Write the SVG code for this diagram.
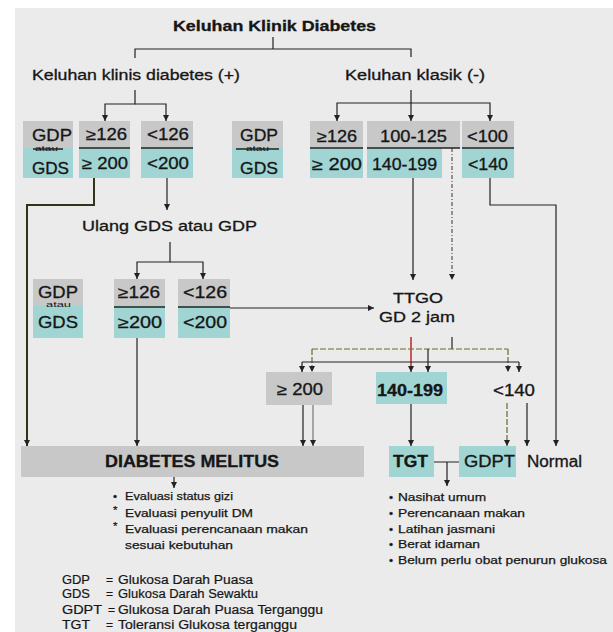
<svg xmlns="http://www.w3.org/2000/svg" width="613" height="632" viewBox="0 0 613 632">
<style>
text{font-family:"Liberation Sans",Arial,sans-serif;fill:#161616}
.b{font-weight:bold}
.lbl{font-size:14px;stroke:#161616;stroke-width:0.3}
.bx{font-size:16px;stroke:#161616;stroke-width:0.3}
.sm{font-size:11.5px;stroke:#161616;stroke-width:0.25}
.lg{font-size:12px;stroke:#161616;stroke-width:0.2}
.tiny{font-size:7px}
.g{fill:#c8c8c8}
.c{fill:#a0d5d4}
.sep{stroke:#222;stroke-width:1.5}
.ln{fill:none;stroke:#222;stroke-width:1.2}
.thick{fill:none;stroke:#33331c;stroke-width:2}
.dash{fill:none;stroke:#6e6a2c;stroke-width:1.2;stroke-dasharray:6 2}
.dot{fill:none;stroke:#555;stroke-width:1.2;stroke-dasharray:4 2 1 2}
.red{fill:none;stroke:#c01818;stroke-width:1.4}
.lt{fill:none;stroke:#777;stroke-width:1.2}
</style>
<defs>
<marker id="ah" viewBox="0 0 8 8" refX="8" refY="4" markerWidth="6" markerHeight="6" markerUnits="userSpaceOnUse" orient="auto">
<path d="M0,0 L8,4 L0,8 z" fill="#222"/>
</marker>
</defs>
<rect x="0" y="0" width="613" height="632" fill="#fff"/>
<rect x="15" y="8" width="598" height="624" fill="#ebebeb"/>

<g id="connectors">
<path class="ln" d="M135,58 V49 H411 V57 M273,37 V49"/>
<path class="ln" d="M135,90 V104 H105 V121" marker-end="url(#ah)"/>
<path class="ln" d="M135,104 H166 V121" marker-end="url(#ah)"/>
<path class="ln" d="M411,90 V103 H337 V121" marker-end="url(#ah)"/>
<path class="ln" d="M411,103 V121" marker-end="url(#ah)"/>
<path class="ln" d="M411,103 H490 V121" marker-end="url(#ah)"/>
<path class="thick" d="M94,178 V205 H27 V446" marker-end="url(#ah)"/>
<path class="ln" d="M167,178 V210" marker-end="url(#ah)"/>
<path class="ln" d="M170,242 V262 H137 V279" marker-end="url(#ah)"/>
<path class="ln" d="M170,262 H203 V279" marker-end="url(#ah)"/>
<path class="ln" d="M230,308 H374" marker-end="url(#ah)"/>
<path class="ln" d="M137,338 V446" marker-end="url(#ah)"/>
<path class="ln" d="M413,178 V280" marker-end="url(#ah)"/>
<path class="dot" d="M452,148 V280" marker-end="url(#ah)"/>
<path class="ln" d="M490,178 V205 H556 V446" marker-end="url(#ah)"/>
<path class="red" d="M411,337 V372" marker-end="url(#ah)"/>
<path class="ln" d="M452,337 V349"/>
<path class="dash" d="M312,349 H508"/>
<path class="dash" d="M312,349 V372" marker-end="url(#ah)"/>
<path class="ln" d="M428,349 V372" marker-end="url(#ah)"/>
<path class="dash" d="M508,349 V372" marker-end="url(#ah)"/>
<path class="ln" d="M302,362 H519"/>
<path class="ln" d="M302,362 V372" marker-end="url(#ah)"/>
<path class="ln" d="M519,362 V372" marker-end="url(#ah)"/>
<path class="ln" d="M303,405 V446" marker-end="url(#ah)"/>
<path class="lt" d="M313,405 V446" marker-end="url(#ah)"/>
<path class="ln" d="M411,404 V446" marker-end="url(#ah)"/>
<path class="dash" d="M507,403 V446" marker-end="url(#ah)"/>
<path class="ln" d="M527,403 V446" marker-end="url(#ah)"/>
<path class="ln" d="M434,462 H459 M447,462 V486" marker-end="url(#ah)"/>
<path class="ln" d="M174,477 V488" marker-end="url(#ah)"/>
</g>

<g id="title">
<text class="b lbl" x="173" y="31" textLength="203" lengthAdjust="spacingAndGlyphs">Keluhan Klinik Diabetes</text>
</g>
<g id="klinis-pos">
<text class="lbl" x="32" y="80" textLength="208" lengthAdjust="spacingAndGlyphs">Keluhan klinis diabetes (+)</text>
</g>
<g id="klasik-neg">
<text class="lbl" x="345" y="80" textLength="140" lengthAdjust="spacingAndGlyphs">Keluhan klasik (-)</text>
</g>

<g id="box1">
<rect class="g" x="23" y="121" width="50" height="27"/>
<rect class="c" x="23" y="148" width="50" height="30"/>
<line class="sep" x1="33" y1="149" x2="63" y2="149" stroke-width="1"/>
<text class="bx" x="32" y="141" textLength="40" lengthAdjust="spacingAndGlyphs">GDP</text>
<text class="tiny" x="35" y="151" textLength="23" lengthAdjust="spacingAndGlyphs">atau</text>
<text class="bx" x="32" y="174" textLength="37" lengthAdjust="spacingAndGlyphs">GDS</text>
</g>
<g id="box2">
<rect class="g" x="79" y="121" width="51" height="27"/>
<rect class="c" x="79" y="148" width="51" height="30"/>
<line class="sep" x1="79" y1="148" x2="130" y2="148"/>
<text class="bx" x="86" y="140" textLength="41" lengthAdjust="spacingAndGlyphs">≥126</text>
<text class="bx" x="82" y="169" textLength="46" lengthAdjust="spacingAndGlyphs">≥ 200</text>
</g>
<g id="box3">
<rect class="g" x="141" y="121" width="52" height="27"/>
<rect class="c" x="141" y="148" width="52" height="30"/>
<line class="sep" x1="141" y1="148" x2="193" y2="148"/>
<text class="bx" x="147" y="140" textLength="42" lengthAdjust="spacingAndGlyphs">&lt;126</text>
<text class="bx" x="147" y="169" textLength="42" lengthAdjust="spacingAndGlyphs">&lt;200</text>
</g>
<g id="box4">
<rect class="g" x="232" y="121" width="51" height="27"/>
<rect class="c" x="232" y="148" width="51" height="30"/>
<line class="sep" x1="236" y1="149" x2="279" y2="149" stroke-width="1"/>
<text class="bx" x="240" y="141" textLength="38" lengthAdjust="spacingAndGlyphs">GDP</text>
<text class="tiny" x="246" y="151" textLength="23" lengthAdjust="spacingAndGlyphs">atau</text>
<text class="bx" x="240" y="174" textLength="38" lengthAdjust="spacingAndGlyphs">GDS</text>
</g>
<g id="box5">
<rect class="g" x="310" y="121" width="53" height="27"/>
<rect class="c" x="310" y="148" width="53" height="30"/>
<line class="sep" x1="310" y1="148" x2="363" y2="148"/>
<text class="bx" x="317" y="142" textLength="40" lengthAdjust="spacingAndGlyphs">≥126</text>
<text class="bx" x="312" y="170" textLength="50" lengthAdjust="spacingAndGlyphs">≥ 200</text>
</g>
<g id="box6">
<rect class="g" x="367" y="121" width="93" height="27"/>
<rect class="c" x="367" y="148" width="75" height="30"/>
<line class="sep" x1="367" y1="148" x2="460" y2="148"/>
<text class="bx" x="380" y="142" textLength="67" lengthAdjust="spacingAndGlyphs">100-125</text>
<text class="bx" x="372" y="170" textLength="65" lengthAdjust="spacingAndGlyphs">140-199</text>
</g>
<g id="box7">
<rect class="g" x="462" y="121" width="52" height="27"/>
<rect class="c" x="462" y="148" width="52" height="30"/>
<line class="sep" x1="462" y1="148" x2="514" y2="148"/>
<text class="bx" x="467" y="142" textLength="41" lengthAdjust="spacingAndGlyphs">&lt;100</text>
<text class="bx" x="468" y="170" textLength="40" lengthAdjust="spacingAndGlyphs">&lt;140</text>
</g>

<g id="ulang">
<text class="lbl" x="82" y="231" textLength="175" lengthAdjust="spacingAndGlyphs">Ulang GDS atau GDP</text>
</g>

<g id="boxA">
<rect class="g" x="33" y="279" width="50" height="27"/>
<rect class="c" x="33" y="306" width="50" height="32"/>
<text class="bx" x="38" y="298" textLength="40" lengthAdjust="spacingAndGlyphs">GDP</text>
<text class="tiny" x="46" y="307" textLength="25" lengthAdjust="spacingAndGlyphs">atau</text>
<text class="bx" x="38" y="328" textLength="40" lengthAdjust="spacingAndGlyphs">GDS</text>
</g>
<g id="boxB">
<rect class="g" x="114" y="279" width="51" height="27"/>
<rect class="c" x="114" y="306" width="51" height="32"/>
<line class="sep" x1="114" y1="307" x2="165" y2="307"/>
<text class="bx" x="118" y="298" textLength="42" lengthAdjust="spacingAndGlyphs">≥126</text>
<text class="bx" x="118" y="328" textLength="44" lengthAdjust="spacingAndGlyphs">≥200</text>
</g>
<g id="boxC">
<rect class="g" x="178" y="279" width="52" height="27"/>
<rect class="c" x="178" y="306" width="52" height="32"/>
<line class="sep" x1="178" y1="307" x2="230" y2="307"/>
<text class="bx" x="183" y="298" textLength="44" lengthAdjust="spacingAndGlyphs">&lt;126</text>
<text class="bx" x="183" y="328" textLength="44" lengthAdjust="spacingAndGlyphs">&lt;200</text>
</g>

<g id="ttgo">
<text class="lbl" x="393" y="303" textLength="50" lengthAdjust="spacingAndGlyphs">TTGO</text>
<text class="lbl" x="379" y="322" textLength="76" lengthAdjust="spacingAndGlyphs">GD 2 jam</text>
</g>

<g id="r200">
<rect class="g" x="266" y="372" width="66" height="33"/>
<text class="bx" x="277" y="395" textLength="46" lengthAdjust="spacingAndGlyphs">≥ 200</text>
</g>
<g id="r140-199">
<rect class="c" x="376" y="372" width="71" height="32"/>
<text class="bx b" x="377" y="396" textLength="66" lengthAdjust="spacingAndGlyphs">140-199</text>
</g>
<g id="r140">
<text class="bx" x="493" y="396" textLength="42" lengthAdjust="spacingAndGlyphs">&lt;140</text>
</g>

<g id="dm">
<rect class="g" x="21" y="446" width="343" height="31"/>
<text class="bx b" x="105" y="467" textLength="174" lengthAdjust="spacingAndGlyphs">DIABETES MELITUS</text>
</g>
<g id="tgt">
<rect class="c" x="389" y="446" width="45" height="31"/>
<text class="bx b" x="393" y="467" textLength="35" lengthAdjust="spacingAndGlyphs">TGT</text>
</g>
<g id="gdpt">
<rect class="c" x="459" y="446" width="57" height="31"/>
<text class="bx" x="464" y="467" textLength="51" lengthAdjust="spacingAndGlyphs">GDPT</text>
</g>
<g id="normal">
<text class="bx" x="527" y="467" textLength="55" lengthAdjust="spacingAndGlyphs">Normal</text>
</g>

<g id="dm-list">
<text class="sm" x="113" y="500">•</text>
<text class="sm" x="125" y="500" textLength="108" lengthAdjust="spacingAndGlyphs">Evaluasi status gizi</text>
<text class="sm" x="113" y="514">*</text>
<text class="sm" x="125" y="517" textLength="128" lengthAdjust="spacingAndGlyphs">Evaluasi penyulit DM</text>
<text class="sm" x="113" y="530">*</text>
<text class="sm" x="125" y="533" textLength="183" lengthAdjust="spacingAndGlyphs">Evaluasi perencanaan makan</text>
<text class="sm" x="125" y="549" textLength="108" lengthAdjust="spacingAndGlyphs">sesuai kebutuhan</text>
</g>

<g id="tgt-list">
<text class="sm" x="389" y="501">•</text>
<text class="sm" x="398" y="501" textLength="88" lengthAdjust="spacingAndGlyphs">Nasihat umum</text>
<text class="sm" x="389" y="517">•</text>
<text class="sm" x="398" y="517" textLength="127" lengthAdjust="spacingAndGlyphs">Perencanaan makan</text>
<text class="sm" x="389" y="533">•</text>
<text class="sm" x="398" y="533" textLength="97" lengthAdjust="spacingAndGlyphs">Latihan jasmani</text>
<text class="sm" x="389" y="548">•</text>
<text class="sm" x="398" y="548" textLength="82" lengthAdjust="spacingAndGlyphs">Berat idaman</text>
<text class="sm" x="389" y="564">•</text>
<text class="sm" x="398" y="564" textLength="209" lengthAdjust="spacingAndGlyphs">Belum perlu obat penurun glukosa</text>
</g>

<g id="legend">
<text class="lg" x="62" y="584" textLength="28" lengthAdjust="spacingAndGlyphs">GDP</text>
<text class="lg" x="106" y="584">=</text>
<text class="lg" x="118" y="584" textLength="135" lengthAdjust="spacingAndGlyphs">Glukosa Darah Puasa</text>
<text class="lg" x="62" y="598" textLength="28" lengthAdjust="spacingAndGlyphs">GDS</text>
<text class="lg" x="106" y="598">=</text>
<text class="lg" x="118" y="598" textLength="140" lengthAdjust="spacingAndGlyphs">Glukosa Darah Sewaktu</text>
<text class="lg" x="62" y="614" textLength="40" lengthAdjust="spacingAndGlyphs">GDPT</text>
<text class="lg" x="108" y="614">=</text>
<text class="lg" x="118" y="614" textLength="205" lengthAdjust="spacingAndGlyphs">Glukosa Darah Puasa Terganggu</text>
<text class="lg" x="62" y="629" textLength="28" lengthAdjust="spacingAndGlyphs">TGT</text>
<text class="lg" x="106" y="629">=</text>
<text class="lg" x="118" y="629" textLength="179" lengthAdjust="spacingAndGlyphs">Toleransi Glukosa terganggu</text>
</g>
</svg>
